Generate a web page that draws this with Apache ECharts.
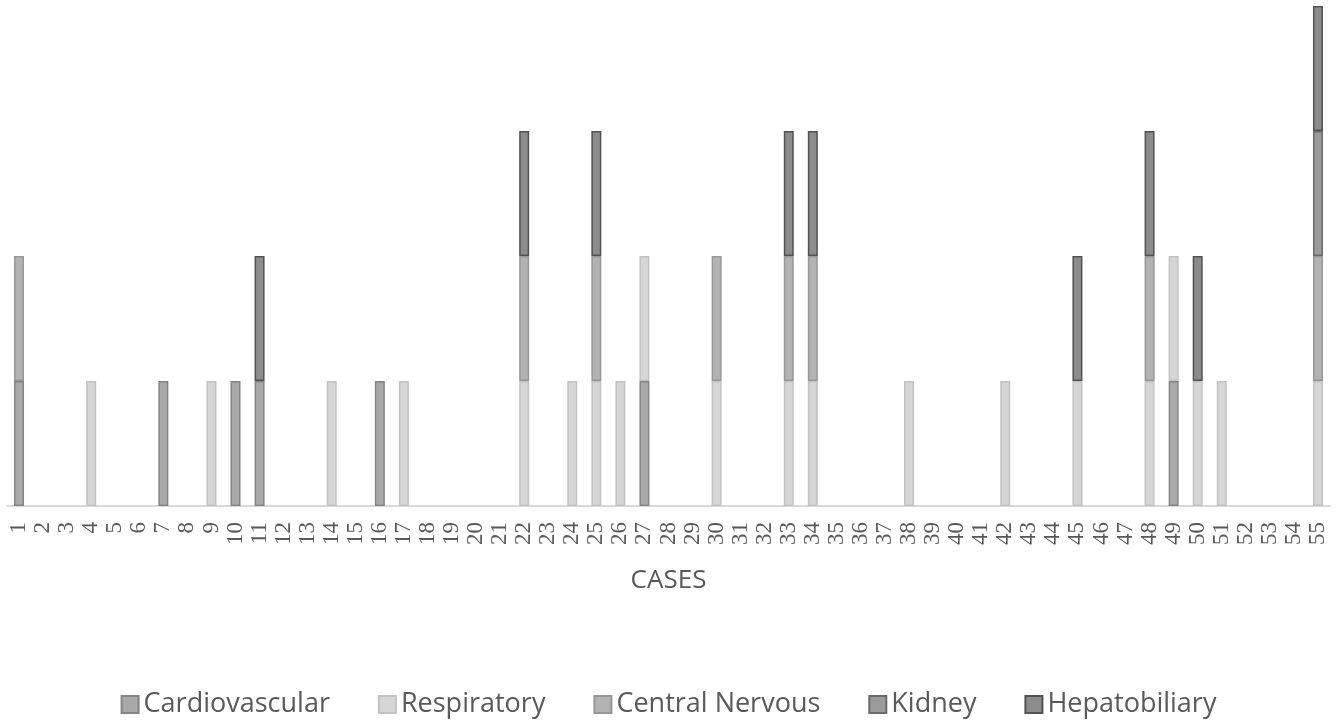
<!DOCTYPE html>
<html style="height: 100%">
<head>
    <meta charset="utf-8">
</head>
<body style="height: 100%; margin: 0">
<div id="container" style="width: 1337px; height: 723px"></div>
<script type="text/javascript" src="https://cdn.jsdelivr.net/npm/echarts@6/dist/echarts.min.js"></script>
<script type="text/javascript">
    // cases 1..55
    var cases = [];
    for (var i = 1; i <= 55; i++) cases.push(String(i));

    var seriesNames = ['Cardiovascular', 'Respiratory', 'Central Nervous', 'Kidney', 'Hepatobiliary'];

    // which cases have each system involved (value 1)
    var cardiovascularCases = [1, 7, 10, 11, 16, 27, 49];
    var respiratoryCases = [4, 9, 14, 17, 22, 24, 25, 26, 27, 30, 33, 34, 38, 42, 45, 48, 49, 50, 51, 55];
    var centralNervousCases = [1, 22, 25, 30, 33, 34, 48, 55];
    var kidneyCases = [55];
    var hepatobiliaryCases = [11, 22, 25, 33, 34, 45, 48, 50, 55];

    var fills = ['#a9a9a9', '#d6d6d6', '#b3b3b3', '#9b9b9b', '#8c8c8c'];
    var borders = ['#858585', '#c2c2c2', '#979797', '#6a6a6a', '#525252'];

    // 1 where involved, empty (no mark) otherwise
    function toValues(list) {
        return cases.map(function (c) {
            return list.indexOf(Number(c)) >= 0 ? 1 : null;
        });
    }

    var allLists = [cardiovascularCases, respiratoryCases, centralNervousCases, kidneyCases, hepatobiliaryCases];

    var dom = document.getElementById("container");
    var myChart = echarts.init(dom);
    var option = {
        backgroundColor: '#ffffff',
        animation: false,
        grid: {
            left: 7,
            right: 7,
            top: 6,
            bottom: 217
        },
        legend: {
            bottom: 0,
            left: 'center',
            itemWidth: 17,
            itemHeight: 17,
            itemGap: 48,
            icon: 'rect',
            textStyle: {
                color: '#595959',
                fontSize: 27,
                fontFamily: 'Open Sans'
            },
            data: seriesNames
        },
        xAxis: {
            type: 'category',
            data: cases,
            name: 'CASES',
            nameLocation: 'middle',
            nameGap: 62,
            nameTextStyle: {
                color: '#595959',
                fontSize: 26,
                fontFamily: 'Open Sans'
            },
            axisLine: {lineStyle: {color: '#d9d9d9', width: 2}},
            axisTick: {show: false},
            axisLabel: {
                interval: 0,
                rotate: 90,
                color: '#595959',
                fontSize: 23,
                fontFamily: 'Liberation Serif',
                margin: 16
            }
        },
        yAxis: {
            type: 'value',
            min: 0,
            max: 4,
            interval: 1,
            show: false,
            splitLine: {show: false}
        },
        series: seriesNames.map(function (name, k) {
            return {
                name: name,
                type: 'bar',
                stack: 'total',
                barWidth: 10,
                data: toValues(allLists[k]),
                itemStyle: {
                    color: fills[k],
                    borderColor: borders[k],
                    borderWidth: 1.5
                }
            };
        })
    };
    myChart.setOption(option, true);
</script>
</body>
</html>
